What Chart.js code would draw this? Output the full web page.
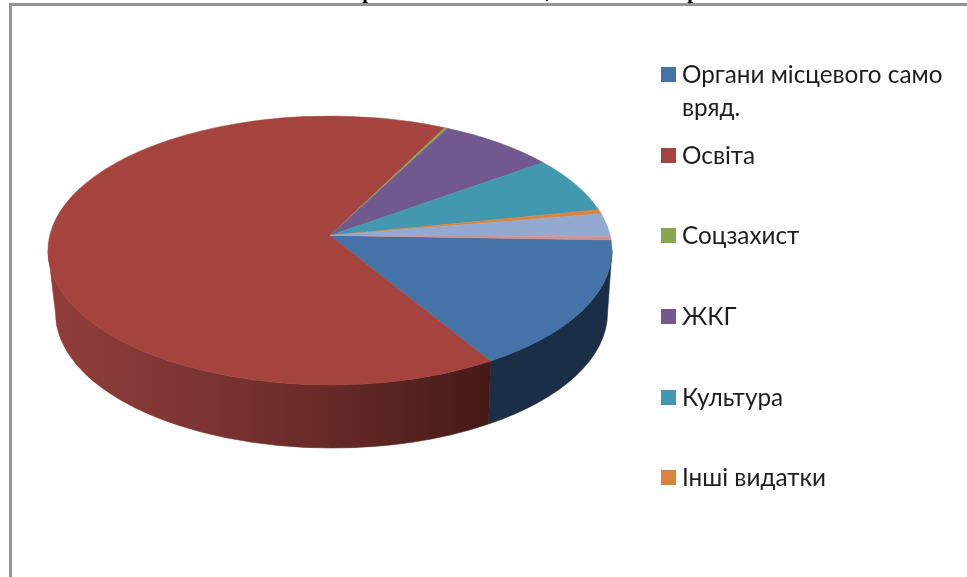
<!DOCTYPE html>
<html lang="uk">
<head>
<meta charset="utf-8">
<title>Pie</title>
<script src="https://cdn.jsdelivr.net/npm/chart.js@4"></script>
<style>html,body{margin:0;padding:0;background:#fff}canvas{display:block}</style>
</head>
<body>
<canvas id="c" width="967" height="577"></canvas>
<script>
const categories = ["Органи місцевого само вряд.", "Освіта", "Соцзахист", "ЖКГ", "Культура", "Інші видатки", "", ""];
const values = [15.8, 66.1, 0.2, 7.4, 6.8, 0.5, 2.8, 0.4];
const topColors = ["#4572A7", "#A5443F", "#89A54E", "#71588F", "#4198AF", "#DB843D", "#93A9CF", "#D19392"];
const wallColors = ["#1B2E47", "#451A16", "#3A4A20", "#2E2340", "#1A3F4A", "#6A3F1C", "#3F4A60", "#5A3D3C"];
const legendLines = [["Органи місцевого само", "вряд."], ["Освіта"], ["Соцзахист"], ["ЖКГ"], ["Культура"], ["Інші видатки"]];
const legendY = [75, 156, 236, 317, 398, 478];
const clippedTitleGlyphs = [["р", 368], [",", 548], ["р", 693]];

const rim = {cx: 330, cy: 250.5, rx: 282, ry: 134.5};
const base = {cx: 331.5, cy: 313, rx: 276, ry: 135};
const perspective = 0.0563;

function toRim(a) {
  const t = perspective, c = Math.cos(a), s = Math.sin(a);
  // (z - it) / (1 + it z)
  const nr = c, ni = s - t, dr = 1 - t * s, di = t * c;
  return Math.atan2(ni * dr - nr * di, nr * dr + ni * di);
}
function unwrap(a0, a1) { while (a1 <= a0) a1 += Math.PI * 2; return a1; }

const pie3d = {
  id: 'pie3d',
  beforeDraw(chart) {
    const ctx = chart.ctx;
    ctx.save();
    ctx.fillStyle = '#fff';
    ctx.fillRect(0, 0, chart.width, chart.height);
    ctx.fillStyle = '#000';
    ctx.font = 'bold 21px "Liberation Serif"';
    ctx.textAlign = 'center';
    ctx.textBaseline = 'alphabetic';
    clippedTitleGlyphs.forEach(g => ctx.fillText(g[0], g[1], -2));
    ctx.strokeStyle = '#949494';
    ctx.lineWidth = 3;
    ctx.beginPath();
    ctx.moveTo(967, 4.5); ctx.lineTo(10.5, 4.5); ctx.lineTo(10.5, 577);
    ctx.stroke();
    ctx.restore();
  },
  beforeDatasetDraw(chart, args) {
    const ctx = chart.ctx;
    const arcs = chart.getDatasetMeta(args.index).data;
    const spans = arcs.map(el => {
      const a0 = toRim(el.startAngle);
      return [a0, unwrap(a0, toRim(el.endAngle))];
    });
    ctx.save();
    // outer walls
    spans.forEach((sp, i) => {
      for (const k of [0, 2]) {
        const from = Math.max(sp[0], k * Math.PI), to = Math.min(sp[1], k * Math.PI + Math.PI);
        if (to <= from) continue;
        ctx.beginPath();
        ctx.ellipse(rim.cx, rim.cy, rim.rx, rim.ry, 0, from, to, false);
        ctx.ellipse(base.cx, base.cy, base.rx, base.ry, 0, to, from, true);
        ctx.closePath();
        let fill = wallColors[i];
        if (i === 1) {
          const g = ctx.createLinearGradient(48, 0, 490, 0);
          g.addColorStop(0, '#923E3B');
          g.addColorStop(0.3, '#7F3633');
          g.addColorStop(0.65, '#652A27');
          g.addColorStop(1, '#451A16');
          fill = g;
        }
        ctx.fillStyle = fill;
        ctx.strokeStyle = fill;
        ctx.lineWidth = 0.6;
        ctx.fill();
        ctx.stroke();
      }
    });
    // top surface
    const apexX = rim.cx, apexY = rim.cy + rim.ry * (-2 * perspective / (1 + perspective * perspective));
    spans.forEach((sp, i) => {
      ctx.beginPath();
      ctx.moveTo(apexX, apexY);
      ctx.ellipse(rim.cx, rim.cy, rim.rx, rim.ry, 0, sp[0], sp[1], false);
      ctx.closePath();
      ctx.fillStyle = topColors[i];
      ctx.strokeStyle = topColors[i];
      ctx.lineWidth = 0.5;
      ctx.fill();
      ctx.stroke();
    });
    ctx.restore();
    return false;
  },
  afterDraw(chart) {
    const ctx = chart.ctx;
    ctx.save();
    ctx.font = '24.3px Lato, "Open Sans"';
    ctx.textBaseline = 'alphabetic';
    ctx.textAlign = 'left';
    legendLines.forEach((lines, i) => {
      const y = legendY[i];
      ctx.fillStyle = topColors[i];
      ctx.fillRect(661, y - 8, 15, 15);
      ctx.fillStyle = '#1e1e1e';
      lines.forEach((t, j) => ctx.fillText(t, 682, y + 8 + j * 33));
    });
    ctx.restore();
  }
};

new Chart(document.getElementById('c'), {
  type: 'pie',
  data: {
    labels: categories,
    datasets: [{data: values, backgroundColor: topColors, borderWidth: 0}]
  },
  options: {
    responsive: false,
    animation: false,
    rotation: 91.93,
    plugins: {legend: {display: false}, tooltip: {enabled: false}}
  },
  plugins: [pie3d]
});
</script>
</body>
</html>
